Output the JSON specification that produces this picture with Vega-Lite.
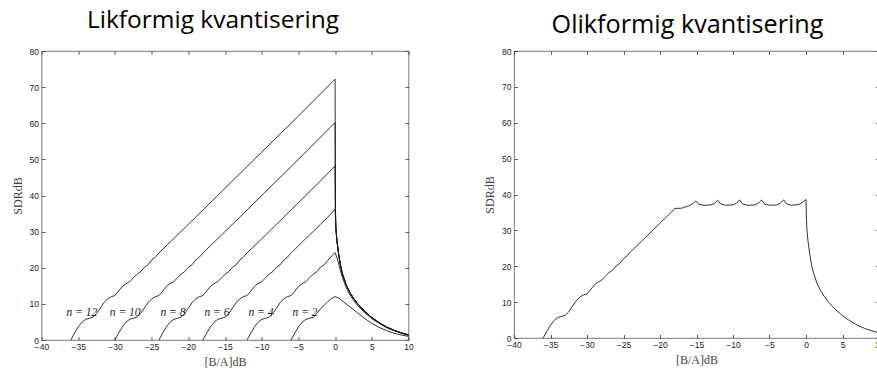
{
  "$schema": "https://vega.github.io/schema/vega-lite/v6.json",
  "background": "white",
  "padding": {"left": 10.5, "top": 7, "right": 0, "bottom": 0},
  "spacing": 68.5,
  "config": {
    "view": {"stroke": "#555", "strokeWidth": 0.8},
    "axis": {
      "grid": false, "domain": false, "tickSize": -3.5, "tickColor": "#333", "tickWidth": 0.8,
      "labelFont": "Liberation Sans", "labelFontSize": 8.5, "labelColor": "#222", "labelPadding": 6.5,
      "labelFlush": false, "labelOverlap": false,
      "titleFont": "Liberation Serif", "titleFontWeight": "normal", "titleFontSize": 12, "titleColor": "#444"
    },
    "title": {"font": "Open Sans", "fontSize": 24.5, "fontWeight": "normal", "color": "#000", "baseline": "alphabetic"}
  },
  "datasets": {
    "uniform": [
      {"n": 2, "x": -6, "y": 0}, {"n": 2, "x": -5.5, "y": 1.9}, {"n": 2, "x": -5, "y": 3.6}, {"n": 2, "x": -4.5, "y": 4.9},
      {"n": 2, "x": -4, "y": 5.7}, {"n": 2, "x": -3.5, "y": 6.0}, {"n": 2, "x": -3, "y": 6.3}, {"n": 2, "x": -2.5, "y": 7.3},
      {"n": 2, "x": -2, "y": 8.6}, {"n": 2, "x": -1.5, "y": 9.6}, {"n": 2, "x": -1, "y": 10.6}, {"n": 2, "x": -0.5, "y": 11.5},
      {"n": 2, "x": 0, "y": 12.0}, {"n": 2, "x": 0.5, "y": 11.6}, {"n": 2, "x": 1, "y": 10.8}, {"n": 2, "x": 1.5, "y": 10.0},
      {"n": 2, "x": 2, "y": 9.2}, {"n": 2, "x": 3, "y": 7.6}, {"n": 2, "x": 4, "y": 6.0}, {"n": 2, "x": 5, "y": 4.6},
      {"n": 2, "x": 6, "y": 3.5}, {"n": 2, "x": 7, "y": 2.6}, {"n": 2, "x": 8, "y": 1.9}, {"n": 2, "x": 9, "y": 1.4}, {"n": 2, "x": 10, "y": 1.0},

      {"n": 4, "x": -12, "y": 0}, {"n": 4, "x": -11.5, "y": 1.9}, {"n": 4, "x": -11, "y": 3.6}, {"n": 4, "x": -10.5, "y": 4.9},
      {"n": 4, "x": -10, "y": 5.7}, {"n": 4, "x": -9.5, "y": 6.0}, {"n": 4, "x": -9, "y": 6.3}, {"n": 4, "x": -8.5, "y": 7.3},
      {"n": 4, "x": -8, "y": 8.8}, {"n": 4, "x": -7.5, "y": 10.3}, {"n": 4, "x": -7, "y": 11.4}, {"n": 4, "x": -6.5, "y": 12.0},
      {"n": 4, "x": -6, "y": 12.3}, {"n": 4, "x": -5.5, "y": 13.5}, {"n": 4, "x": -5, "y": 14.8}, {"n": 4, "x": -4.5, "y": 15.6},
      {"n": 4, "x": -4, "y": 16.1}, {"n": 4, "x": -3.5, "y": 17.2}, {"n": 4, "x": -3, "y": 18.2}, {"n": 4, "x": -2.5, "y": 18.9},
      {"n": 4, "x": -2, "y": 20.1}, {"n": 4, "x": -1.5, "y": 20.8}, {"n": 4, "x": -1, "y": 22.0}, {"n": 4, "x": -0.5, "y": 23.2},
      {"n": 4, "x": 0, "y": 24.2}, {"n": 4, "x": 0.25, "y": 22.8}, {"n": 4, "x": 0.5, "y": 21.0}, {"n": 4, "x": 0.75, "y": 19.0},
      {"n": 4, "x": 1, "y": 17.3}, {"n": 4, "x": 1.5, "y": 14.6}, {"n": 4, "x": 2, "y": 12.6}, {"n": 4, "x": 2.5, "y": 11.0},
      {"n": 4, "x": 3, "y": 9.7}, {"n": 4, "x": 4, "y": 7.6}, {"n": 4, "x": 5, "y": 5.9}, {"n": 4, "x": 6, "y": 4.6},
      {"n": 4, "x": 7, "y": 3.4}, {"n": 4, "x": 8, "y": 2.6}, {"n": 4, "x": 9, "y": 1.9}, {"n": 4, "x": 10, "y": 1.3},

      {"n": 6, "x": -18, "y": 0}, {"n": 6, "x": -17.5, "y": 1.9}, {"n": 6, "x": -17, "y": 3.6}, {"n": 6, "x": -16.5, "y": 4.9},
      {"n": 6, "x": -16, "y": 5.7}, {"n": 6, "x": -15.5, "y": 6.0}, {"n": 6, "x": -15, "y": 6.3}, {"n": 6, "x": -14.5, "y": 7.3},
      {"n": 6, "x": -14, "y": 8.8}, {"n": 6, "x": -13.5, "y": 10.3}, {"n": 6, "x": -13, "y": 11.4}, {"n": 6, "x": -12.5, "y": 12.0},
      {"n": 6, "x": -12, "y": 12.3}, {"n": 6, "x": -11.5, "y": 13.5}, {"n": 6, "x": -11, "y": 14.8}, {"n": 6, "x": -10.5, "y": 15.6},
      {"n": 6, "x": -10, "y": 16.1}, {"n": 6, "x": -9.5, "y": 17.2}, {"n": 6, "x": -9, "y": 18.2}, {"n": 6, "x": -8.5, "y": 18.9},
      {"n": 6, "x": -8, "y": 20.1}, {"n": 6, "x": -7.5, "y": 20.8}, {"n": 6, "x": -7, "y": 22.1}, {"n": 6, "x": -6.5, "y": 22.9},
      {"n": 6, "x": -6, "y": 24.1}, {"n": 6, "x": -5, "y": 26.0}, {"n": 6, "x": -4, "y": 28.1}, {"n": 6, "x": -3, "y": 30.0},
      {"n": 6, "x": -2, "y": 32.0}, {"n": 6, "x": -1, "y": 34.0}, {"n": 6, "x": 0, "y": 36.2},
      {"n": 6, "x": 0.1, "y": 31.0}, {"n": 6, "x": 0.25, "y": 27.5}, {"n": 6, "x": 0.5, "y": 23.5}, {"n": 6, "x": 0.75, "y": 20.5},
      {"n": 6, "x": 1, "y": 18.3}, {"n": 6, "x": 1.5, "y": 15.3}, {"n": 6, "x": 2, "y": 13.2}, {"n": 6, "x": 2.5, "y": 11.6},
      {"n": 6, "x": 3, "y": 10.2}, {"n": 6, "x": 4, "y": 8.0}, {"n": 6, "x": 5, "y": 6.2}, {"n": 6, "x": 6, "y": 4.8},
      {"n": 6, "x": 7, "y": 3.6}, {"n": 6, "x": 8, "y": 2.7}, {"n": 6, "x": 9, "y": 2.0}, {"n": 6, "x": 10, "y": 1.4},

      {"n": 8, "x": -24, "y": 0}, {"n": 8, "x": -23.5, "y": 1.9}, {"n": 8, "x": -23, "y": 3.6}, {"n": 8, "x": -22.5, "y": 4.9},
      {"n": 8, "x": -22, "y": 5.7}, {"n": 8, "x": -21.5, "y": 6.0}, {"n": 8, "x": -21, "y": 6.3}, {"n": 8, "x": -20.5, "y": 7.3},
      {"n": 8, "x": -20, "y": 8.8}, {"n": 8, "x": -19.5, "y": 10.3}, {"n": 8, "x": -19, "y": 11.4}, {"n": 8, "x": -18.5, "y": 12.0},
      {"n": 8, "x": -18, "y": 12.3}, {"n": 8, "x": -17.5, "y": 13.5}, {"n": 8, "x": -17, "y": 14.8}, {"n": 8, "x": -16.5, "y": 15.6},
      {"n": 8, "x": -16, "y": 16.1}, {"n": 8, "x": -15.5, "y": 17.2}, {"n": 8, "x": -15, "y": 18.2}, {"n": 8, "x": -14.5, "y": 18.9},
      {"n": 8, "x": -14, "y": 20.1}, {"n": 8, "x": -13.5, "y": 20.8}, {"n": 8, "x": -13, "y": 22.1}, {"n": 8, "x": -12.5, "y": 22.9},
      {"n": 8, "x": -12, "y": 24.1}, {"n": 8, "x": -10, "y": 28.0}, {"n": 8, "x": -8, "y": 32.0}, {"n": 8, "x": -6, "y": 36.0},
      {"n": 8, "x": -4, "y": 40.0}, {"n": 8, "x": -2, "y": 44.0}, {"n": 8, "x": 0, "y": 48.2},
      {"n": 8, "x": 0.04, "y": 36.5}, {"n": 8, "x": 0.1, "y": 31.0}, {"n": 8, "x": 0.25, "y": 27.5}, {"n": 8, "x": 0.5, "y": 23.5}, {"n": 8, "x": 0.75, "y": 20.5},
      {"n": 8, "x": 1, "y": 18.3}, {"n": 8, "x": 1.5, "y": 15.3}, {"n": 8, "x": 2, "y": 13.2}, {"n": 8, "x": 2.5, "y": 11.6},
      {"n": 8, "x": 3, "y": 10.2}, {"n": 8, "x": 4, "y": 8.0}, {"n": 8, "x": 5, "y": 6.2}, {"n": 8, "x": 6, "y": 4.8},
      {"n": 8, "x": 7, "y": 3.6}, {"n": 8, "x": 8, "y": 2.7}, {"n": 8, "x": 9, "y": 2.0}, {"n": 8, "x": 10, "y": 1.4},

      {"n": 10, "x": -30, "y": 0}, {"n": 10, "x": -29.5, "y": 1.9}, {"n": 10, "x": -29, "y": 3.6}, {"n": 10, "x": -28.5, "y": 4.9},
      {"n": 10, "x": -28, "y": 5.7}, {"n": 10, "x": -27.5, "y": 6.0}, {"n": 10, "x": -27, "y": 6.3}, {"n": 10, "x": -26.5, "y": 7.3},
      {"n": 10, "x": -26, "y": 8.8}, {"n": 10, "x": -25.5, "y": 10.3}, {"n": 10, "x": -25, "y": 11.4}, {"n": 10, "x": -24.5, "y": 12.0},
      {"n": 10, "x": -24, "y": 12.3}, {"n": 10, "x": -23.5, "y": 13.5}, {"n": 10, "x": -23, "y": 14.8}, {"n": 10, "x": -22.5, "y": 15.6},
      {"n": 10, "x": -22, "y": 16.1}, {"n": 10, "x": -21.5, "y": 17.2}, {"n": 10, "x": -21, "y": 18.2}, {"n": 10, "x": -20.5, "y": 18.9},
      {"n": 10, "x": -20, "y": 20.1}, {"n": 10, "x": -19.5, "y": 20.8}, {"n": 10, "x": -19, "y": 22.1}, {"n": 10, "x": -18.5, "y": 22.9},
      {"n": 10, "x": -18, "y": 24.1}, {"n": 10, "x": -15, "y": 30.0}, {"n": 10, "x": -10, "y": 40.0}, {"n": 10, "x": -5, "y": 50.0},
      {"n": 10, "x": 0, "y": 60.2},
      {"n": 10, "x": 0.04, "y": 36.5}, {"n": 10, "x": 0.1, "y": 31.0}, {"n": 10, "x": 0.25, "y": 27.5}, {"n": 10, "x": 0.5, "y": 23.5}, {"n": 10, "x": 0.75, "y": 20.5},
      {"n": 10, "x": 1, "y": 18.3}, {"n": 10, "x": 1.5, "y": 15.3}, {"n": 10, "x": 2, "y": 13.2}, {"n": 10, "x": 2.5, "y": 11.6},
      {"n": 10, "x": 3, "y": 10.2}, {"n": 10, "x": 4, "y": 8.0}, {"n": 10, "x": 5, "y": 6.2}, {"n": 10, "x": 6, "y": 4.8},
      {"n": 10, "x": 7, "y": 3.6}, {"n": 10, "x": 8, "y": 2.7}, {"n": 10, "x": 9, "y": 2.0}, {"n": 10, "x": 10, "y": 1.4},

      {"n": 12, "x": -36, "y": 0}, {"n": 12, "x": -35.5, "y": 1.9}, {"n": 12, "x": -35, "y": 3.6}, {"n": 12, "x": -34.5, "y": 4.9},
      {"n": 12, "x": -34, "y": 5.7}, {"n": 12, "x": -33.5, "y": 6.0}, {"n": 12, "x": -33, "y": 6.3}, {"n": 12, "x": -32.5, "y": 7.3},
      {"n": 12, "x": -32, "y": 8.8}, {"n": 12, "x": -31.5, "y": 10.3}, {"n": 12, "x": -31, "y": 11.4}, {"n": 12, "x": -30.5, "y": 12.0},
      {"n": 12, "x": -30, "y": 12.3}, {"n": 12, "x": -29.5, "y": 13.5}, {"n": 12, "x": -29, "y": 14.8}, {"n": 12, "x": -28.5, "y": 15.6},
      {"n": 12, "x": -28, "y": 16.1}, {"n": 12, "x": -27.5, "y": 17.2}, {"n": 12, "x": -27, "y": 18.2}, {"n": 12, "x": -26.5, "y": 18.9},
      {"n": 12, "x": -26, "y": 20.1}, {"n": 12, "x": -25.5, "y": 20.8}, {"n": 12, "x": -25, "y": 22.1}, {"n": 12, "x": -24.5, "y": 22.9},
      {"n": 12, "x": -24, "y": 24.1}, {"n": 12, "x": -20, "y": 32.0}, {"n": 12, "x": -15, "y": 42.0}, {"n": 12, "x": -10, "y": 52.0},
      {"n": 12, "x": -5, "y": 62.0}, {"n": 12, "x": 0, "y": 72.2},
      {"n": 12, "x": 0.04, "y": 36.5}, {"n": 12, "x": 0.1, "y": 31.0}, {"n": 12, "x": 0.25, "y": 27.5}, {"n": 12, "x": 0.5, "y": 23.5}, {"n": 12, "x": 0.75, "y": 20.5},
      {"n": 12, "x": 1, "y": 18.3}, {"n": 12, "x": 1.5, "y": 15.3}, {"n": 12, "x": 2, "y": 13.2}, {"n": 12, "x": 2.5, "y": 11.6},
      {"n": 12, "x": 3, "y": 10.2}, {"n": 12, "x": 4, "y": 8.0}, {"n": 12, "x": 5, "y": 6.2}, {"n": 12, "x": 6, "y": 4.8},
      {"n": 12, "x": 7, "y": 3.6}, {"n": 12, "x": 8, "y": 2.7}, {"n": 12, "x": 9, "y": 2.0}, {"n": 12, "x": 10, "y": 1.4}
    ],
    "labels": [
      {"x": -34.5, "y": 7.6, "label": "n = 12"},
      {"x": -28.6, "y": 7.6, "label": "n = 10"},
      {"x": -22.1, "y": 7.6, "label": "n = 8"},
      {"x": -16.1, "y": 7.6, "label": "n = 6"},
      {"x": -10.1, "y": 7.6, "label": "n = 4"},
      {"x": -4.1, "y": 7.6, "label": "n = 2"}
    ],
    "nonuniform": [
      {"x": -36, "y": 0}, {"x": -35.5, "y": 1.9}, {"x": -35, "y": 3.6}, {"x": -34.5, "y": 4.9},
      {"x": -34, "y": 5.7}, {"x": -33.5, "y": 6.0}, {"x": -33, "y": 6.3}, {"x": -32.5, "y": 7.3},
      {"x": -32, "y": 8.8}, {"x": -31.5, "y": 10.3}, {"x": -31, "y": 11.4}, {"x": -30.5, "y": 12.0},
      {"x": -30, "y": 12.3}, {"x": -29.5, "y": 13.5}, {"x": -29, "y": 14.8}, {"x": -28.5, "y": 15.6},
      {"x": -28, "y": 16.1}, {"x": -27.5, "y": 17.2}, {"x": -27, "y": 18.2}, {"x": -26.5, "y": 18.9},
      {"x": -26, "y": 20.1}, {"x": -25.5, "y": 20.8}, {"x": -25, "y": 22.1}, {"x": -24.5, "y": 22.9},
      {"x": -24, "y": 24.1}, {"x": -22, "y": 28.0}, {"x": -20, "y": 32.0}, {"x": -18.5, "y": 35.0},
      {"x": -18, "y": 36.1}, {"x": -17, "y": 36.2}, {"x": -16, "y": 36.9}, {"x": -15.5, "y": 37.5},
      {"x": -15.1, "y": 38.2}, {"x": -14.7, "y": 37.3}, {"x": -14, "y": 37.0}, {"x": -13, "y": 37.1},
      {"x": -12.5, "y": 37.6}, {"x": -12.1, "y": 38.4}, {"x": -11.7, "y": 37.4}, {"x": -11, "y": 37.0},
      {"x": -10, "y": 37.1}, {"x": -9.5, "y": 37.6}, {"x": -9.1, "y": 38.5}, {"x": -8.7, "y": 37.4},
      {"x": -8, "y": 37.0}, {"x": -7, "y": 37.1}, {"x": -6.5, "y": 37.6}, {"x": -6.1, "y": 38.5},
      {"x": -5.7, "y": 37.4}, {"x": -5, "y": 37.0}, {"x": -4, "y": 37.1}, {"x": -3.5, "y": 37.6},
      {"x": -3.05, "y": 38.5}, {"x": -2.65, "y": 37.4}, {"x": -2, "y": 37.0}, {"x": -1, "y": 37.2},
      {"x": -0.5, "y": 37.8}, {"x": 0, "y": 38.6},
      {"x": 0.04, "y": 35.0}, {"x": 0.1, "y": 31.0}, {"x": 0.25, "y": 27.5}, {"x": 0.5, "y": 23.5}, {"x": 0.75, "y": 20.5},
      {"x": 1, "y": 18.3}, {"x": 1.5, "y": 15.3}, {"x": 2, "y": 13.2}, {"x": 2.5, "y": 11.6},
      {"x": 3, "y": 10.2}, {"x": 4, "y": 8.0}, {"x": 5, "y": 6.2}, {"x": 6, "y": 4.8},
      {"x": 7, "y": 3.6}, {"x": 8, "y": 2.7}, {"x": 9, "y": 2.0}, {"x": 10, "y": 1.4}
    ]
  },
  "hconcat": [
    {
      "width": 367,
      "height": 289,
      "title": {"text": "Likformig kvantisering", "dx": -12, "offset": 14},
      "layer": [
        {
          "data": {"name": "uniform"},
          "mark": {"type": "line", "stroke": "#1a1a1a", "strokeWidth": 0.9},
          "encoding": {
            "x": {"field": "x", "type": "quantitative", "scale": {"domain": [-40, 10], "nice": false},
                  "axis": {"orient": "bottom", "values": [-40, -35, -30, -25, -20, -15, -10, -5, 0, 5, 10], "title": "[B/A]dB", "titlePadding": 5, "labelPadding": 6}},
            "y": {"field": "y", "type": "quantitative", "scale": {"domain": [0, 80], "nice": false},
                  "axis": {"orient": "left", "values": [0, 10, 20, 30, 40, 50, 60, 70, 80], "title": "SDRdB", "titlePadding": 5}},
            "detail": {"field": "n"}
          }
        },
        {
          "data": {"name": "labels"},
          "mark": {"type": "text", "font": "Liberation Serif", "fontStyle": "italic", "fontSize": 11.5, "color": "#222"},
          "encoding": {
            "x": {"field": "x", "type": "quantitative", "scale": {"domain": [-40, 10], "nice": false},
                  "axis": {"orient": "top", "labels": false, "title": null, "values": [-40, -35, -30, -25, -20, -15, -10, -5, 0, 5, 10]}},
            "y": {"field": "y", "type": "quantitative", "scale": {"domain": [0, 80], "nice": false},
                  "axis": {"orient": "right", "labels": false, "title": null, "values": [0, 10, 20, 30, 40, 50, 60, 70, 80]}},
            "text": {"field": "label"}
          }
        }
      ],
      "resolve": {"axis": {"x": "independent", "y": "independent"}}
    },
    {
      "width": 365,
      "height": 287,
      "title": {"text": "Olikformig kvantisering", "dx": -9, "offset": 9, "fontSize": 25.2},
      "layer": [
        {
          "data": {"name": "nonuniform"},
          "mark": {"type": "line", "stroke": "#1a1a1a", "strokeWidth": 0.9},
          "encoding": {
            "x": {"field": "x", "type": "quantitative", "scale": {"domain": [-40, 10], "nice": false},
                  "axis": {"orient": "bottom", "values": [-40, -35, -30, -25, -20, -15, -10, -5, 0, 5, 10], "title": "[B/A]dB", "titlePadding": 5, "labelPadding": 6}},
            "y": {"field": "y", "type": "quantitative", "scale": {"domain": [0, 80], "nice": false},
                  "axis": {"orient": "left", "values": [0, 10, 20, 30, 40, 50, 60, 70, 80], "title": "SDRdB", "titlePadding": 5}}
          }
        },
        {
          "data": {"name": "nonuniform"},
          "mark": {"type": "point", "opacity": 0},
          "encoding": {
            "x": {"field": "x", "type": "quantitative", "scale": {"domain": [-40, 10], "nice": false},
                  "axis": {"orient": "top", "labels": false, "title": null, "values": [-40, -35, -30, -25, -20, -15, -10, -5, 0, 5, 10]}},
            "y": {"field": "y", "type": "quantitative", "scale": {"domain": [0, 80], "nice": false},
                  "axis": {"orient": "right", "labels": false, "title": null, "values": [0, 10, 20, 30, 40, 50, 60, 70, 80]}}
          }
        }
      ],
      "resolve": {"axis": {"x": "independent", "y": "independent"}}
    }
  ]
}
